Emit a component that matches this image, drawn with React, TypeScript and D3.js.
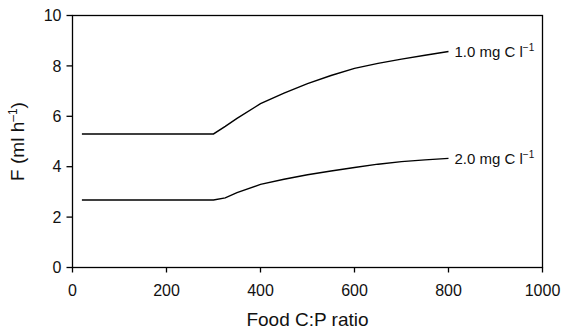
import React from "react";
import * as d3 from "d3";

const ratios = [20, 300, 325, 350, 400, 450, 500, 550, 600, 650, 700, 750, 800];
const series1 = [5.3, 5.3, 5.6, 5.92, 6.5, 6.92, 7.3, 7.62, 7.9, 8.1, 8.27, 8.42, 8.57];
const series2 = [2.68, 2.68, 2.76, 2.97, 3.3, 3.5, 3.68, 3.83, 3.97, 4.1, 4.2, 4.27, 4.33];
const seriesLabels = ["1.0 mg C l", "2.0 mg C l"];
const xTicks = [0, 200, 400, 600, 800, 1000];
const yTicks = [0, 2, 4, 6, 8, 10];

const W = 569, H = 336;
const M = { left: 72.5, right: 26.5, top: 15.5, bottom: 68.5 };

export default function App() {
  const x = d3.scaleLinear().domain([0, 1000]).range([M.left, W - M.right]);
  const y = d3.scaleLinear().domain([0, 10]).range([H - M.bottom, M.top]);
  const line = d3.line<number>().x((_, i) => x(ratios[i])).y((d) => y(d));
  const all = [series1, series2];
  const font = "Arial, 'Liberation Sans', sans-serif";
  return (
    <svg width={W} height={H} style={{ position: "absolute", left: 0, top: 0 }} fontFamily={font}>
      <rect x={M.left} y={M.top} width={x(1000) - M.left} height={y(0) - M.top} fill="none" stroke="#000" strokeWidth={1.3} />
      {xTicks.map((t) => (
        <g key={"x" + t}>
          <line x1={x(t)} x2={x(t)} y1={y(0)} y2={y(0) + 5} stroke="#000" strokeWidth={1.3} />
          <text x={x(t)} y={y(0) + 28} fontSize={16} textAnchor="middle" fill="#111">{t}</text>
        </g>
      ))}
      {yTicks.map((t) => (
        <g key={"y" + t}>
          <line x1={M.left - 6} x2={M.left} y1={y(t)} y2={y(t)} stroke="#000" strokeWidth={1.3} />
          <text x={M.left - 11} y={y(t)} dy="0.35em" fontSize={16} textAnchor="end" fill="#111">{t}</text>
        </g>
      ))}
      {all.map((s, i) => (
        <g key={"s" + i}>
          <path d={line(s) || ""} fill="none" stroke="#000" strokeWidth={1.4} />
          <text x={x(ratios[ratios.length - 1]) + 6} y={y(s[s.length - 1])} dy="0.35em" fontSize={15} fill="#111">
            {seriesLabels[i]}
            <tspan dy="-6" fontSize={10}>−1</tspan>
          </text>
        </g>
      ))}
      <text x={(M.left + x(1000)) / 2} y={326} fontSize={19} textAnchor="middle" fill="#111">Food C:P ratio</text>
      <text transform={`translate(24, ${(M.top + y(0)) / 2}) rotate(-90)`} fontSize={19} textAnchor="middle" fill="#111">
        F (ml h<tspan dy="-7" fontSize={12}>–1</tspan><tspan dy="7">)</tspan>
      </text>
    </svg>
  );
}
